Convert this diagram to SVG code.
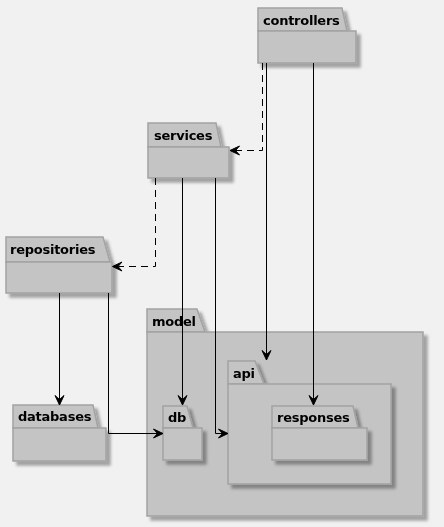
<svg xmlns="http://www.w3.org/2000/svg" width="444" height="527" viewBox="0 0 444 527">
<style>
.pkg path, .pkg rect { fill: #C4C4C4; stroke: #A2A2A2; stroke-width: 1.5; }
.pkg { filter: url(#sh); }
.lbl { font-family: "DejaVu Sans", sans-serif; font-weight: bold; font-size: 13px; letter-spacing: -0.25px; fill: #000; }
.edge { fill: none; stroke: #000; stroke-width: 1; }
.dash { stroke-dasharray: 7 5; }
</style>
<defs>
<filter id="sh" x="-10%" y="-10%" width="130%" height="130%">
<feGaussianBlur in="SourceAlpha" stdDeviation="1.5"/>
<feOffset dx="4" dy="4" result="b"/>
<feFlood flood-color="#000" flood-opacity="0.33"/>
<feComposite in2="b" operator="in"/>
<feMerge><feMergeNode/><feMergeNode in="SourceGraphic"/></feMerge>
</filter>
<marker id="ah" markerUnits="userSpaceOnUse" markerWidth="12" markerHeight="12" refX="10" refY="5" orient="auto" viewBox="0 0 12 10">
<path d="M10,5 L0.5,0.5 L4.5,5 L0.5,9.5 Z" fill="#000" stroke="#000" stroke-width="1"/>
</marker>
</defs>
<rect width="444" height="527" fill="#F1F1F1"/>

<g id="controllers" class="pkg">
<path d="M258,31 V8 H342 L347,31 Z"/>
<rect x="258" y="31" width="98" height="32"/>
<text class="lbl" x="263" y="25">controllers</text>
</g>
<g id="services" class="pkg">
<path d="M148,147 V123 H216 L221,147 Z"/>
<rect x="148" y="147" width="81" height="31"/>
<text class="lbl" x="154" y="140">services</text>
</g>
<g id="repositories" class="pkg">
<path d="M6,262 V237 H103 L110,262 Z"/>
<rect x="6" y="262" width="106" height="31"/>
<text class="lbl" x="10" y="254">repositories</text>
</g>
<g id="model" class="pkg">
<path d="M147,332 V309 H197 L205,332 Z"/>
<rect x="147" y="332" width="276" height="184"/>
<text class="lbl" x="152" y="326">model</text>
</g>
<g id="api" class="pkg">
<path d="M228,384 V361 H255 L264,384 Z"/>
<rect x="228" y="384" width="163" height="100"/>
<text class="lbl" x="233" y="378">api</text>
</g>
<g id="responses" class="pkg">
<path d="M272,428 V406 H353 L358,428 Z"/>
<rect x="272" y="428" width="95" height="32"/>
<text class="lbl" x="277" y="422">responses</text>
</g>
<g id="db" class="pkg">
<path d="M163,428 V406 H187 L193,428 Z"/>
<rect x="163" y="428" width="39" height="32"/>
<text class="lbl" x="168" y="422">db</text>
</g>
<g id="databases" class="pkg">
<path d="M13,428 V405 H93 L98,428 Z"/>
<rect x="13" y="428" width="93" height="33"/>
<text class="lbl" x="18" y="421">databases</text>
</g>

<g id="connectors">
<path class="edge dash" d="M262.5,63 V150.5 H230" marker-end="url(#ah)"/>
<path class="edge" d="M266.5,63 V360" marker-end="url(#ah)"/>
<path class="edge" d="M313.5,63 V405" marker-end="url(#ah)"/>
<path class="edge dash" d="M155.5,178 V266.5 H112.5" marker-end="url(#ah)"/>
<path class="edge" d="M182.5,178 V405" marker-end="url(#ah)"/>
<path class="edge" d="M215.5,178 V433.5 H228" marker-end="url(#ah)"/>
<path class="edge" d="M59.5,293 V405" marker-end="url(#ah)"/>
<path class="edge" d="M108.5,293 V433.5 H163" marker-end="url(#ah)"/>
</g>
</svg>
